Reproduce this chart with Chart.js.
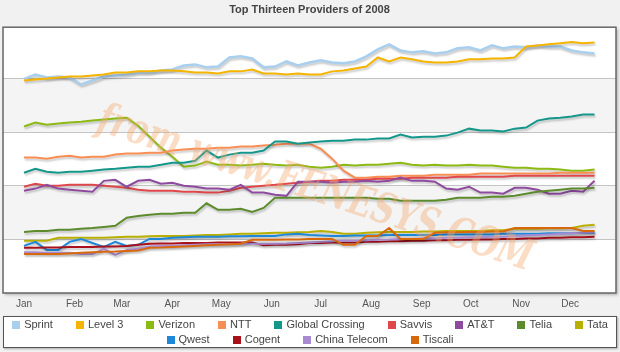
<!DOCTYPE html>
<html>
<head>
<meta charset="utf-8">
<script src="https://cdn.jsdelivr.net/npm/chart.js@4.4.1/dist/chart.umd.min.js"></script>
<style>
  body { margin: 0; background: #f1f1f1; }
  #wrap { position: relative; width: 620px; height: 352px; }
  #myChart { position: absolute; left: 0; top: 0; }
  #legend {
    position: absolute; left: 3px; top: 316px; width: 612px; height: 30px;
    background: #fff; border: 1px solid #555; box-shadow: 1px 1px 2px rgba(0,0,0,0.3);
    font: 11px "Liberation Sans", Arial, sans-serif; color: #444; line-height: 15px;
    display: flex; flex-wrap: wrap; justify-content: center; align-content: flex-start; column-gap: 23px;
  }
  .item { display: flex; align-items: center; white-space: nowrap; }
  .box { width: 8px; height: 8px; margin-right: 4px; }
</style>
</head>
<body>
<div id="wrap">
  <canvas id="myChart" width="620" height="318"></canvas>
  <div id="legend"></div>
</div>
<script>
// x axis: one point per week, month labels at the first day of each month
const months = ['Jan', 'Feb', 'Mar', 'Apr', 'May', 'Jun', 'Jul', 'Aug', 'Sep', 'Oct', 'Nov', 'Dec'];
const monthStarts = [0, 31, 60, 91, 121, 152, 182, 213, 244, 274, 305, 335];

// weekly values (no y scale shown on the original, read as 0-100)
const sprint = [80.0,81.6,80.5,80.9,80.5,77.9,79.4,80.9,81.3,81.6,
  82.4,82.4,83.1,83.5,85.0,85.4,84.3,84.6,88.0,88.4,
  87.6,84.3,84.6,86.5,85.0,86.1,86.9,86.1,85.8,86.5,
  88.4,91.0,92.9,90.6,89.9,90.3,89.5,89.9,91.4,91.8,
  90.6,92.5,91.4,92.1,91.8,92.5,92.1,92.1,90.6,89.9,89.5];
const level3 = [79.4,79.8,80.1,80.5,80.9,80.9,81.3,81.6,82.4,82.4,
  82.8,82.8,83.1,83.1,82.8,82.4,82.4,82.0,82.8,82.8,
  83.5,82.0,82.0,81.6,82.0,81.6,81.6,82.8,83.1,83.9,
  84.6,88.0,86.5,88.0,87.3,86.5,86.1,86.1,86.5,87.3,
  87.3,87.6,87.6,88.0,92.1,92.5,92.9,93.3,93.8,93.3,93.6];
const verizon = [62.2,63.7,62.9,63.3,63.7,64.0,64.4,64.8,65.2,65.5,
  62.5,58.4,54.3,50.9,47.2,47.6,49.1,47.9,47.9,47.6,
  47.9,48.3,47.9,47.6,47.9,47.2,46.8,47.2,47.9,47.6,
  47.9,47.9,48.3,48.7,47.9,47.6,47.9,47.6,47.6,47.9,
  47.6,47.6,47.2,46.8,46.8,46.4,46.4,46.1,45.7,45.7,46.1];
const ntt = [50.6,50.6,50.2,50.9,51.3,50.6,50.9,50.9,51.7,52.1,
  52.1,52.4,52.4,53.2,53.6,53.9,53.9,54.3,54.3,54.7,
  54.7,55.1,55.4,55.8,55.8,55.8,53.9,50.2,45.7,43.1,
  43.1,43.4,43.4,43.8,43.8,43.8,44.2,44.2,44.2,44.2,
  44.6,44.6,44.6,44.6,44.6,44.6,44.6,44.9,44.9,44.9,44.9];
const globalCrossing = [44.9,46.4,45.3,44.9,45.3,45.3,45.7,46.1,46.4,46.8,
  47.2,47.2,47.9,48.7,48.7,49.4,53.2,50.6,51.7,52.4,
  52.4,53.2,56.6,56.6,55.8,56.2,56.6,56.9,56.9,57.3,
  57.3,57.7,57.7,59.2,58.1,58.4,58.4,58.8,59.9,61.4,
  60.7,60.7,60.3,61.4,61.8,64.4,65.2,65.5,65.9,66.7,66.7];
const savvis = [39.7,40.8,40.1,40.1,40.4,40.4,40.4,40.1,39.7,39.3,
  38.6,38.2,38.2,38.2,37.8,37.8,37.5,37.5,38.2,39.3,
  39.7,40.1,40.4,40.8,41.2,41.6,41.9,41.9,42.3,42.3,
  42.3,42.7,42.7,42.7,43.1,43.1,43.1,43.1,43.4,43.4,
  43.4,43.4,43.4,43.8,43.8,43.8,43.8,43.8,43.8,43.8,43.8];
const att = [38.2,39.0,40.4,39.0,38.6,38.2,37.8,41.9,42.3,39.7,
  41.9,42.3,40.8,41.2,40.1,39.7,39.0,39.0,38.6,40.4,
  37.5,37.5,36.7,36.3,41.6,41.6,41.6,41.2,41.6,41.6,
  41.9,41.6,41.9,43.1,41.9,41.9,41.6,39.0,38.6,39.7,
  37.5,37.5,37.1,39.3,39.3,38.6,37.1,37.1,38.2,37.8,41.9];
const telia = [22.8,23.2,23.2,23.6,23.6,24.0,24.3,24.7,25.1,28.1,
  28.8,29.2,29.6,29.6,30.0,30.0,33.5,31.1,31.1,31.5,
  30.3,31.8,35.6,35.6,35.6,35.6,35.6,35.6,35.6,35.6,
  35.6,35.2,35.2,34.5,34.5,34.5,34.5,34.8,35.6,35.6,
  35.6,36.0,36.0,36.3,37.1,37.8,38.2,38.6,39.0,39.0,39.3];
const tata = [19.5,19.5,19.5,20.6,20.6,20.6,20.6,20.6,20.8,21.0,
  21.0,21.2,21.3,21.3,21.3,21.5,21.7,21.7,21.9,22.1,
  22.1,22.3,22.5,22.5,22.7,22.8,23.2,22.8,22.1,22.1,
  22.5,22.7,22.8,22.8,22.8,23.0,23.0,23.2,23.2,23.2,
  23.2,23.4,23.4,24.0,24.0,24.0,24.2,24.2,24.3,25.1,25.5];
const qwest = [17.6,19.1,16.1,16.1,19.1,20.2,18.7,17.2,19.1,17.6,
  18.0,20.2,20.2,20.6,20.8,21.0,21.0,21.0,21.2,21.2,
  21.3,21.3,21.3,21.9,22.1,21.7,21.5,21.3,21.3,21.5,
  21.5,21.5,21.7,21.7,21.7,21.7,21.7,21.9,21.9,21.9,
  21.9,21.9,22.1,22.1,22.1,22.1,22.3,22.3,22.3,22.5,22.5];
const cogent = [16.9,16.9,17.0,17.0,17.2,17.2,17.2,17.4,17.4,17.6,
  18.0,18.4,18.5,18.5,18.7,18.7,18.7,18.9,18.9,18.9,
  18.9,17.8,18.0,18.0,18.2,18.7,18.7,18.9,18.9,18.9,
  19.1,19.1,19.3,19.3,19.5,19.5,19.7,19.7,19.9,19.9,
  20.0,20.0,20.2,20.2,20.4,20.4,20.6,20.6,20.8,20.8,21.0];
const chinaTelecom = [15.2,15.2,15.0,15.0,15.0,14.6,14.6,16.5,14.2,16.1,
  16.5,17.4,17.6,17.6,17.8,18.0,18.2,18.2,18.2,18.4,
  18.4,18.4,18.4,18.5,18.7,18.9,19.1,19.3,19.5,19.5,
  19.7,19.9,20.0,20.2,20.2,20.4,20.4,20.6,20.6,20.8,
  20.8,21.0,21.0,21.3,21.5,21.7,21.9,22.1,22.3,22.5,22.7];
const tiscali = [14.6,14.6,14.6,14.6,14.8,15.0,15.2,15.4,15.5,15.7,
  15.9,16.9,17.0,17.2,17.4,17.6,17.8,18.0,18.2,18.4,
  19.9,19.9,19.9,20.0,20.0,20.2,20.2,20.2,18.0,18.0,
  21.3,21.3,24.3,20.2,20.2,20.2,22.5,22.7,22.7,22.8,
  22.8,23.0,23.0,24.3,24.3,24.3,24.3,24.3,24.3,23.2,23.2];

const names = ['Sprint', 'Level 3', 'Verizon', 'NTT', 'Global Crossing', 'Savvis', 'AT&T',
  'Telia', 'Tata', 'Qwest', 'Cogent', 'China Telecom', 'Tiscali'];
const series = [sprint, level3, verizon, ntt, globalCrossing, savvis, att,
  telia, tata, qwest, cogent, chinaTelecom, tiscali];
const colors = ['#a9cfef', '#f4b400', '#8cba14', '#f98e54', '#14978a', '#e0474a', '#8e4a9e',
  '#5b8b2c', '#b8b000', '#1e88d8', '#a8101c', '#a88ad0', '#d8680c'];

const weeks = sprint.map((v, i) => i);

// white plot box with grey bands
const plotBox = {
  id: 'plotBox',
  beforeDraw(chart) {
    const { ctx, chartArea: a, scales: { y } } = chart;
    ctx.save();
    ctx.shadowColor = 'rgba(0,0,0,0.25)';
    ctx.shadowOffsetX = 2;
    ctx.shadowOffsetY = 2;
    ctx.shadowBlur = 3;
    ctx.fillStyle = '#fff';
    ctx.fillRect(a.left, a.top, a.width, a.height);
    ctx.restore();
    ctx.fillStyle = '#f4f4f4';
    [[20, 40], [60, 80]].forEach(([lo, hi]) => {
      const t = y.getPixelForValue(hi), b = y.getPixelForValue(lo);
      ctx.fillRect(a.left, t, a.width, b - t);
    });
  },
  afterDraw(chart) {
    const { ctx, chartArea: a } = chart;
    ctx.save();
    ctx.strokeStyle = '#666';
    ctx.lineWidth = 1.5;
    ctx.strokeRect(a.left, a.top, a.width, a.height);
    ctx.restore();
  }
};

// soft shadow under the lines + watermark
const lineShadow = {
  id: 'lineShadow',
  beforeDatasetsDraw(chart) {
    const ctx = chart.ctx;
    ctx.save();
    ctx.shadowColor = 'rgba(0,0,0,0.22)';
    ctx.shadowOffsetX = 1;
    ctx.shadowOffsetY = 2;
    ctx.shadowBlur = 2;
  },
  afterDatasetsDraw(chart) {
    const ctx = chart.ctx;
    ctx.restore();
    ctx.save();
    ctx.translate(95, 130);
    ctx.rotate(18 * Math.PI / 180);
    ctx.font = 'italic bold 34px "DejaVu Serif"';
    const txt = 'from www.FENESYS.COM';
    const w = ctx.measureText(txt).width;
    ctx.scale(455 / w, 1.25);
    ctx.fillStyle = 'rgba(246,168,108,0.4)';
    ctx.fillText(txt, 0, 0);
    ctx.restore();
  }
};

const ctx = document.getElementById('myChart');

const chart = new Chart(ctx, {
  type: 'line',
  data: {
    labels: weeks,
    datasets: series.map((data, i) => ({
      label: names[i],
      data: data,
      borderColor: colors[i],
      backgroundColor: colors[i],
      borderWidth: i === 0 ? 2.5 : 2,
      pointRadius: 0,
      tension: 0,
      order: series.length - i
    }))
  },
  options: {
    responsive: false,
    animation: false,
    layout: { padding: { left: 3, right: 4, top: 0, bottom: 3 } },
    plugins: {
      legend: { display: false },
      tooltip: { enabled: false },
      title: {
        display: true,
        text: 'Top Thirteen Providers of 2008',
        color: '#444',
        font: { family: 'Liberation Sans', size: 11, weight: 'bold' },
        padding: { top: 3, bottom: 11 }
      }
    },
    scales: {
      x: {
        type: 'linear',
        min: -1.84,
        max: 51.88,
        grid: { display: false, drawTicks: false },
        border: { display: false },
        afterBuildTicks: axis => { axis.ticks = monthStarts.map(d => ({ value: d / 7 })); },
        ticks: {
          autoSkip: false,
          maxRotation: 0,
          padding: 5,
          color: '#555',
          font: { family: 'Liberation Sans', size: 10 },
          callback: (v, i) => months[i]
        }
      },
      y: {
        min: 0,
        max: 99.3,
        grid: { color: '#c4c4c4', drawTicks: false },
        border: { display: false },
        ticks: { display: false },
        afterBuildTicks: axis => { axis.ticks = [20, 40, 60, 80].map(v => ({ value: v })); }
      }
    }
  },
  plugins: [plotBox, lineShadow]
});

// html legend, two centred rows like the original
const legendEl = document.getElementById('legend');
chart.data.datasets.forEach(ds => {
  const item = document.createElement('span');
  item.className = 'item';
  const box = document.createElement('span');
  box.className = 'box';
  box.style.background = ds.borderColor;
  item.appendChild(box);
  item.appendChild(document.createTextNode(ds.label));
  legendEl.appendChild(item);
});
</script>
</body>
</html>
